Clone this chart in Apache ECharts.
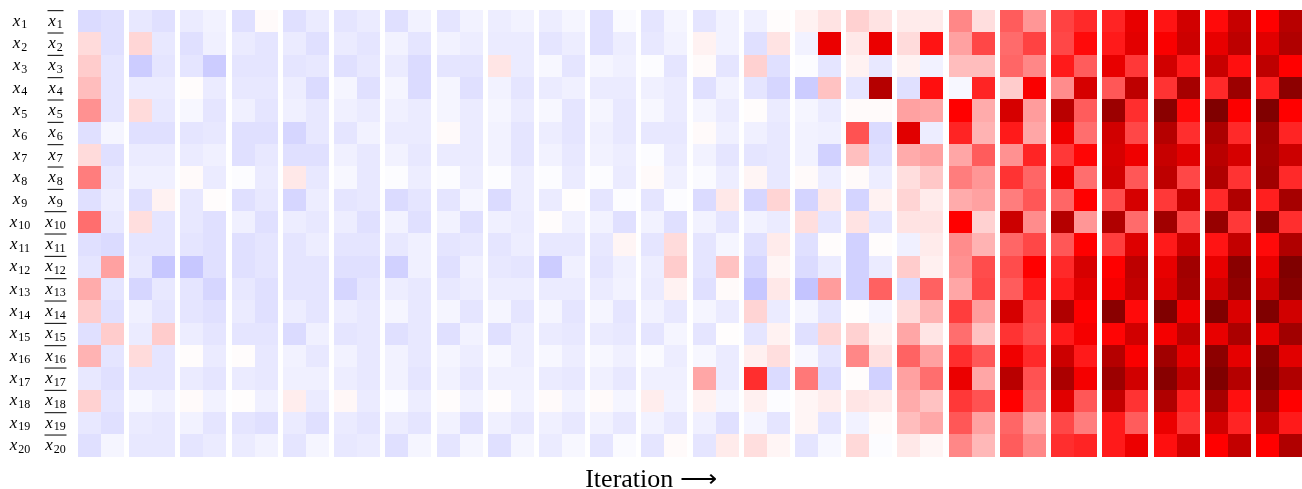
<!DOCTYPE html>
<html><head><meta charset="utf-8">
<script src="https://cdn.jsdelivr.net/npm/echarts@6/dist/echarts.min.js"></script>
<style>html,body{margin:0;padding:0;background:#fff}#c{width:1302px;height:489px}</style>
</head><body><div id="c"></div><script>
// ---- data ----
const rowLabels = ['x1','x2','x3','x4','x5','x6','x7','x8','x9','x10','x11','x12','x13','x14','x15','x16','x17','x18','x19','x20'];
const axisTitle = 'Iteration \u27F6';
const iterationCount = 24;   // each iteration shows two cells: x_i and its negation
// values: -100..100 (0 = white, 50 = pure red, 100 = dark red, negative = blue)
const r01 = [-7,-6, -4.5,-6, -4,-2.5, -6,1, -6,-4, -5,-4, -6,-2.5, -5,-2.5, -3.5,-2.5, -3.5,-2, -6,-1, -5,-2, -5,-2.5, -3,0.5, 2.5,5.5, 9,5.5, 4,4, 23.5,6.5, 32,20.5, 37,42, 43,59, 46,68, 48,72, 50,78];
const r02 = [7,-6, 8,-4.5, -6,-3, -4,-5, -4,-6, -4,-5, -2.5,-5, -2.5,-3.5, -4,-4, -5,-3.5, -6,-3.5, -4.5,-2.5, 2.5,-2.5, -6,5.5, -2.5,58, 4.5,58, 7,46, 18.5,36, 29,37, 36,48, 45,61, 52,70, 59,76, 62,81];
const r03 = [10,-5, -10,-5, -5,-10, -5,-5, -5,-4.5, -6,-4.5, -4,-7, -5,-5, 5,-4, -1.5,-5, -2,-3, -0.5,-5, 1,-5, 9,-6, -0.5,-5, 2.5,-4.5, 2.5,-2.5, 13,13, 30,23.5, 45,32, 59,39, 68,45, 72,47, 75.5,50];
const r04 = [13,-5, -4,-4, 0.5,-4, -4.5,-4.5, -3.5,-7, -2,-6, -2,-7, -2,-6, -2.5,-5, -4,-3, -4,-4, -3,-4, -6,-2.5, -5,-8, -10,12, -5,79, -6,47, -1.5,43, 10,52, 22.5,66, 33,75.5, 40,85, 42,89, 44,95];
const r05 = [21.5,-5, 7,-4.5, -1.5,-5, -3,-5, -3,-4.5, -3,-4, -3,-4, -2,-4, -2,-4, -1.5,-5, -2,-4.5, -1.5,-4, -2,-4, 0.5,-4, -2,-4, 1,1, 18.5,17.5, 50,16.5, 66,19.5, 77.5,32, 89,41, 96,48, 100,51, 100,50];
const r06 = [-6,-2, -6,-6, -5,-4.5, -6,-6, -8,-4.5, -5,-2.5, -4,-4, 1,-4, -2.5,-5, -3.5,-5, -3,-4.5, -4.5,-4.5, 1,-3, -3,-4.5, -2.5,-3, 34,-7, 62,-3.5, 43,15, 45,17.5, 56,28.5, 68,36, 79,41, 83,42, 87,43];
const r07 = [7,-6, -4,-4, -4,-3, -6,-4.5, -6,-6, -3,-4.5, -2.5,-4.5, -4,-4, -2.5,-5, -2.5,-4.5, -2.5,-3.5, -0.5,-4, -2.5,-5, -5,-4.5, -2.5,-9, 12.5,-6, 16.5,18.5, 17.5,32, 21.5,43, 39,49, 66,56, 72,62, 77.5,66, 85,70];
const r08 = [25.5,-4.5, -3,-3, 1,-4, -0.5,-4, 4.5,-4.5, -1.5,-4.5, -0.5,-3.5, -0.5,-3.5, -0.5,-3.5, -0.5,-4, -0.5,-4, 1,-3, -1,-3.5, 2,-4.5, 1,-3.5, 1,-3.5, 6.5,11, 25.5,20.5, 40,30, 56,28.5, 68,33, 75.5,36, 81,40, 87,42];
const r09 = [-6,-3.5, -6,2.5, -4.5,0.5, -6,-4.5, -8,-3.5, -5,-4.5, -7,-5, -5,-2, -7,-3.5, -4,0.3, -5,-0.5, -5,-0.5, -7,4.5, -8,8.5, -8.5,4.5, -8.5,2.5, 8.5,4, 16.5,18.5, 25.5,33, 30,50, 35,66, 39,73.5, 42,81, 44,85];
const r10 = [28.5,-4.5, 6.5,-5, -4.5,-6, -3,-6, -3.5,-4.5, -3.5,-6, -2.5,-6, -2.5,-6, -3,-4, 0.5,-3, -2.5,-6, -2.5,-6, -2.5,-5, -2.5,-4, 6.5,-5, 5.5,-5, 5.5,5.5, 50,9, 70,22.5, 79,20.5, 81,29, 87,36, 91,39, 95,41];
const r11 = [-6,-7, -5,-5, -5,-6, -6,-5, -5,-3.5, -5,-5, -4.5,-3, -5,-4.5, -5,-3.5, -4.5,-4.5, -4.5,2, -5,7, -5,-2, -6,4, -6,0.5, -9,0.5, -3,4, 22.5,15, 30,36, 33,50, 38,63, 45,70, 46,73.5, 48,81];
const r12 = [-5,18.5, -4.5,-11, -11,-6, -6,-5, -5,-5, -6,-6, -9,-3, -6,-3, -4.5,-5, -10,-3, -5,-3, -3.5,10, -5,12, -8,2, -7,-4, -9,-4, 10,3, 21.5,35, 35,50, 42,66, 50,76, 59,87, 59,96, 59,100];
const r13 = [16.5,-5, -8,-4.5, -5,-8, -4.5,-6, -5,-5, -8,-5, -3.5,-4.5, -4.5,-3.5, -3.5,-3.5, -4,-4, -4,-2.5, -4,2.5, -6,1, -11,4.5, -11.5,19.5, -9,31, -7,31, 17.5,36, 32,45, 45,61, 54,73.5, 63,85, 68,93, 70,97];
const r14 = [10,-6, -3,-5, -5,-6, -4,-6, -3.5,-5, -3.5,-4.5, -2,-4.5, -2,-5, -2,-5, -2,-5, -2,-5, -2.5,-4.5, -2,-4, 8.5,-4, -2,-5, 0.3,-2, 7,15, 38,19.5, 66,37, 81,50, 96,48, 100,56, 100,64.5, 100,68];
const r15 = [-6,10, -4,10, -3.5,-5, -5,-5, -7,-3, -5,-4.5, -6,-4.5, -6,-2.5, -6,-3.5, -4,-4.5, -4,-4.5, -5,-2, -5,0.3, -5,2.5, -6,8, 9,2.5, 17.5,5, 28.5,12, 40,35, 45,54, 49,68, 54,75.5, 59,83, 59,87];
const r16 = [15,-5, 7,-5, 0.5,-4, 0.5,-4.5, -2.5,-4.5, -2.5,-4.5, -2.5,-4.5, -2,-3.5, -1.5,-3.5, -1.5,-3.5, -1.5,-3, -1,-3.5, -1.5,-4, 3,6.5, -1.5,-5, 23.5,6, 30.5,18.5, 41,33, 56,42, 70,45, 79,52, 87,59, 95,60, 97,62];
const r17 = [-4.5,-6, -5,-5, -4,-5, -4,-4.5, -3,-3, -3.5,-4.5, -2.5,-5, -2.5,-4.5, -3,-3, -4,-4.5, -3,-4.5, -3,-3, 17.5,-4, 41,-7, 26.5,-7, 0.5,-9, 18.5,28.5, 58,17.5, 77.5,34, 83,54, 89,68, 97,73.5, 100,79, 100,81];
const r18 = [9,-5, -1.5,-3, 1,-2.5, 0.3,-3, 3.5,-4, 1.5,-4, -0.5,-3.5, 0.5,-2.5, 0.5,-2.5, 1,-2.5, 1,-2, 3.5,-2.5, 2.5,-2, 3,-0.5, 2,3.5, 5,4, 16.5,12, 39,34, 50,32, 62,33, 73.5,40, 81,44, 85,47, 89,50];
const r19 = [-4.5,-6, -4,-4.5, -2.5,-5, -5,-6, -4,-6, -4,-5, -3.5,-5, -2.5,-6, -3,-4.5, -3,-4.5, -2.5,-4.5, -2.5,-4.5, -3,-6, -2,-5, 2,-5, -2.5,1, 13,17, 33,18.5, 30,18.5, 36,25.5, 45,32, 58,40, 68,43, 73.5,45];
const r20 = [-6,-2, -4.5,-4.5, -5,-4, -4,-2.5, -5,-2, -4.5,-4, -6,-2, -5,-2, -6,-2, -4,-1.5, -5,-1, -5,1, -5,4, 6.5,2, -5,-1.5, 7.5,-0.5, 4.5,2, 23.5,14, 32,23.5, 41,43, 45,57, 47,68, 50,73.5, 50,81];
const rows = [r01,r02,r03,r04,r05,r06,r07,r08,r09,r10,r11,r12,r13,r14,r15,r16,r17,r18,r19,r20];

// ---- style ----
const GAP = 5.2 / 23;           // white gap between iterations, in cell widths
const FONT = 'Liberation Serif';
const X_SIZE = 17, SUB_SIZE = 12, SUB_PAD = 1;

const ctx = document.createElement('canvas').getContext('2d');
function textW(font, s) { ctx.font = font; return ctx.measureText(s).width; }
const xW = textW('italic ' + X_SIZE + 'px "' + FONT + '"', 'x');
const barW = n => Math.round(xW + textW(SUB_SIZE + 'px "' + FONT + '"', '0'.repeat(n)) + SUB_PAD + 1);

const data = [];
rows.forEach((row, ri) => row.forEach((v, ci) => {
  const it = Math.floor(ci / 2), half = ci % 2;
  data.push([it * (2 + GAP) + half, ri, v]);
}));

const baseRich = {
  v: {fontFamily: FONT, fontStyle: 'italic', fontSize: X_SIZE, color: '#000', lineHeight: 20},
  s: {fontFamily: FONT, fontSize: SUB_SIZE, color: '#000', lineHeight: 14, verticalAlign: 'bottom', padding: [0, 0, 0, SUB_PAD]},
  o1: {width: barW(1), height: 1, backgroundColor: '#000', lineHeight: 4, verticalAlign: 'bottom'},
  o2: {width: barW(2), height: 1, backgroundColor: '#000', lineHeight: 4, verticalAlign: 'bottom'}
};
const idx = s => s.slice(1);
const labelCommon = {interval: 0, showMinLabel: true, showMaxLabel: true, hideOverlap: false, align: 'center', rich: baseRich};

const chart = echarts.init(document.getElementById('c'), null, {renderer: 'canvas'});
chart.setOption({
  animation: false,
  backgroundColor: '#fff',
  title: {text: axisTitle, left: 'center', top: 462,
    textStyle: {fontFamily: FONT, fontSize: 26, fontWeight: 'normal', color: '#000'}},
  grid: {left: 78, top: 10, right: 0, bottom: 32.3},
  xAxis: {type: 'value', min: 0, max: iterationCount * 2 + (iterationCount - 1) * GAP, show: false},
  yAxis: [
    {type: 'category', data: rowLabels, inverse: true,
     axisLine: {show: false}, axisTick: {show: false}, splitLine: {show: false},
     axisLabel: Object.assign({}, labelCommon, {margin: 58,
       formatter: v => '{v|x}{s|' + idx(v) + '}'})},
    {type: 'category', data: rowLabels, inverse: true, position: 'left',
     axisLine: {show: false}, axisTick: {show: false}, splitLine: {show: false},
     axisLabel: Object.assign({}, labelCommon, {margin: 22.5, padding: [0, 0, 4, 0],
       formatter: v => '{o' + idx(v).length + '|}\n{v|x}{s|' + idx(v) + '}'})}
  ],
  visualMap: {show: false, type: 'continuous', min: -100, max: 100, dimension: 2, seriesIndex: 0,
    inRange: {color: ['#00004c', '#0000ff', '#ffffff', '#ff0000', '#800000']}},
  series: [{
    type: 'custom', coordinateSystem: 'cartesian2d', xAxisIndex: 0, yAxisIndex: 0,
    encode: {x: 0, y: 1}, data: data,
    renderItem: (params, api) => {
      const x = api.value(0), y = api.value(1);
      const c0 = api.coord([x, y]), c1 = api.coord([x + 1, y]);
      const bh = api.size([0, 1])[1];
      const l = Math.round(c0[0]), r = Math.round(c1[0]);
      const t = Math.round(c0[1] - bh / 2), b = Math.round(c0[1] + bh / 2);
      return {type: 'rect', shape: {x: l, y: t, width: r - l, height: b - t},
        style: {fill: api.visual('color')}};
    }
  }]
});
</script></body></html>
